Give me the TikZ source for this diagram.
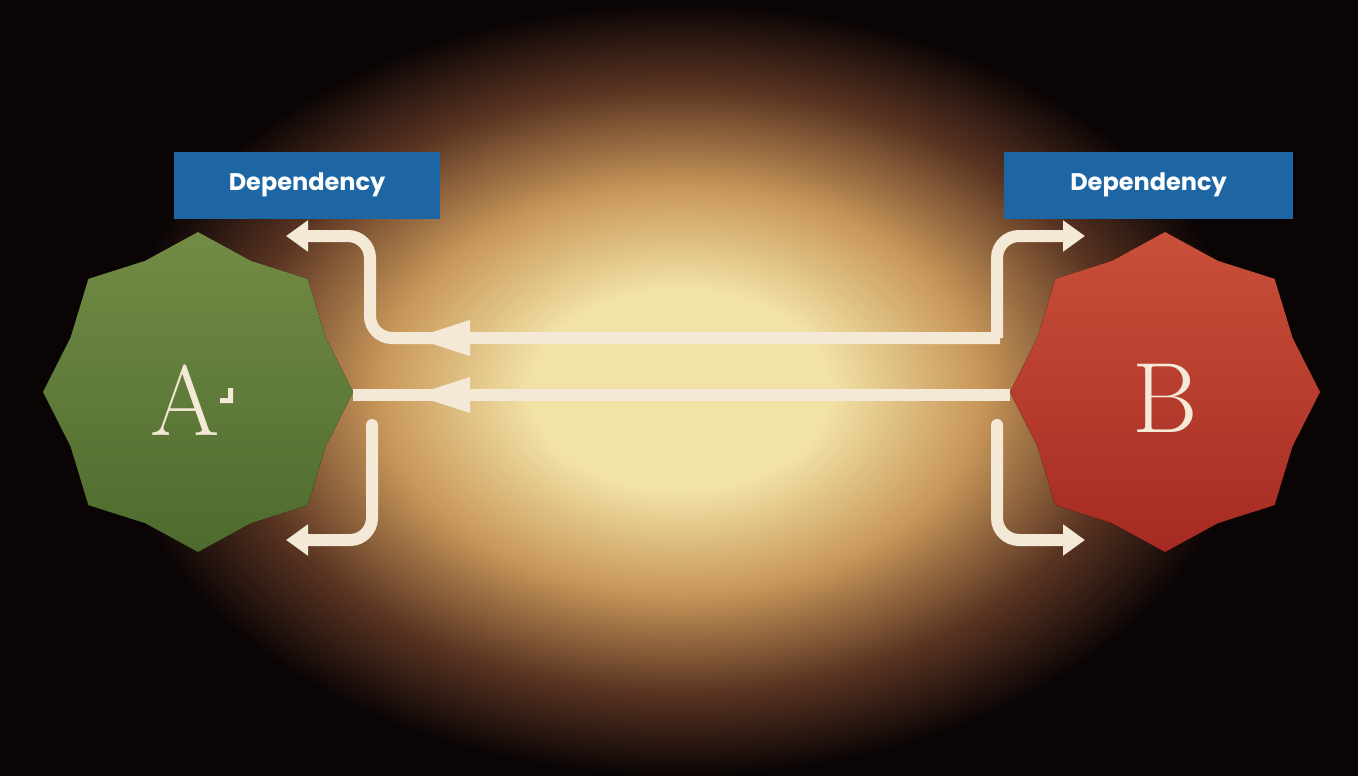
\documentclass[tikz,border=0pt]{standalone}
\usepackage{fontspec}
\newfontfamily\lblfont{Poppins}
\usetikzlibrary{arrows.meta}
\definecolor{cream}{HTML}{F3E9D6}
\definecolor{boxblue}{HTML}{1D66A3}
\definecolor{glowc}{HTML}{F2E2A6}
\definecolor{glowm}{HTML}{C9985A}
\definecolor{glowo}{HTML}{5A3422}
\definecolor{bgc}{HTML}{0A0405}
\definecolor{greenL}{HTML}{728C45}
\definecolor{greenD}{HTML}{4E6B2E}
\definecolor{redL}{HTML}{C9503A}
\definecolor{redD}{HTML}{A52A22}
\pgfdeclareradialshading{glow}{\pgfpoint{0bp}{0bp}}{color(0bp)=(glowc); color(6bp)=(glowc); color(12bp)=(glowm); color(18bp)=(glowo); color(23bp)=(bgc); color(25bp)=(bgc)}
\tikzset{
 conn/.style={cream, line width=12pt, rounded corners=22pt},
 tipL/.style={-{Triangle[length=22pt,width=30pt]}},
 lbl/.style={fill=boxblue, text=white, font=\lblfont\bfseries\fontsize{24}{28}\selectfont, minimum width=#1, minimum height=67pt, inner sep=0pt},
 letter/.style={text=cream, font=\fontsize{100}{110}\selectfont}
}
\begin{document}
\begin{tikzpicture}[x=1pt,y=-1pt]
\useasboundingbox (0,0) rectangle (1358,776);
\fill[bgc] (0,0) rectangle (1358,776);
\shade[shading=glow] (680,390) ellipse (620 and 420);
% stars
\begin{scope}[shift={(198,392)}]
 \fill[top color=greenL, bottom color=greenD] plot[samples at={0,...,15}] ({(mod(\x,2)==0?155:138)*cos(22.5*\x)},{(mod(\x,2)==0?160:142)*sin(22.5*\x)}) -- cycle;
\end{scope}
\begin{scope}[shift={(1165,392)}]
 \fill[top color=redL, bottom color=redD] plot[samples at={0,...,15}] ({(mod(\x,2)==0?155:138)*cos(22.5*\x)},{(mod(\x,2)==0?160:142)*sin(22.5*\x)}) -- cycle;
\end{scope}
\node[letter] (A) at (185,400) {A};
\fill[cream] (220,398) rectangle (233,403) (228,388) rectangle (233,403);
\node[letter] (B) at (1165,398) {B};
% labels
\node[lbl=266pt] (d1) at (307,185) {Dependency};
\node[lbl=289pt] (d2) at (1148.5,185) {Dependency};
% coordinates
\coordinate (t1) at (1000,338);
\coordinate (t2) at (370,338);
\coordinate (t3) at (370,236);
\coordinate (tl) at (286,236);
\coordinate (tr0) at (997,338);
\coordinate (tr1) at (997,236);
\coordinate (tr) at (1085,236);
\coordinate (m1) at (1010,395);
\coordinate (m2) at (353,395);
\coordinate (b1) at (372,425);
\coordinate (b2) at (372,540);
\coordinate (bl) at (286,540);
\coordinate (c1) at (997,425);
\coordinate (c2) at (997,540);
\coordinate (cr) at (1085,540);
% connectors
\draw[conn, tipL] (t1) -- (t2) -- (t3) -- (tl);
\draw[conn, tipL] (tr0) -- (tr1) -- (tr);
\draw[conn, line cap=butt] (m1) -- (m2);
\draw[conn, line cap=round, tipL] (b1) -- (b2) -- (bl);
\draw[conn, line cap=round, tipL] (c1) -- (c2) -- (cr);
% mid-line arrowheads
\fill[cream] (414,338) -- (470,320) -- (470,356) -- cycle;
\fill[cream] (414,395) -- (470,377) -- (470,413) -- cycle;
\end{tikzpicture}
\end{document}
